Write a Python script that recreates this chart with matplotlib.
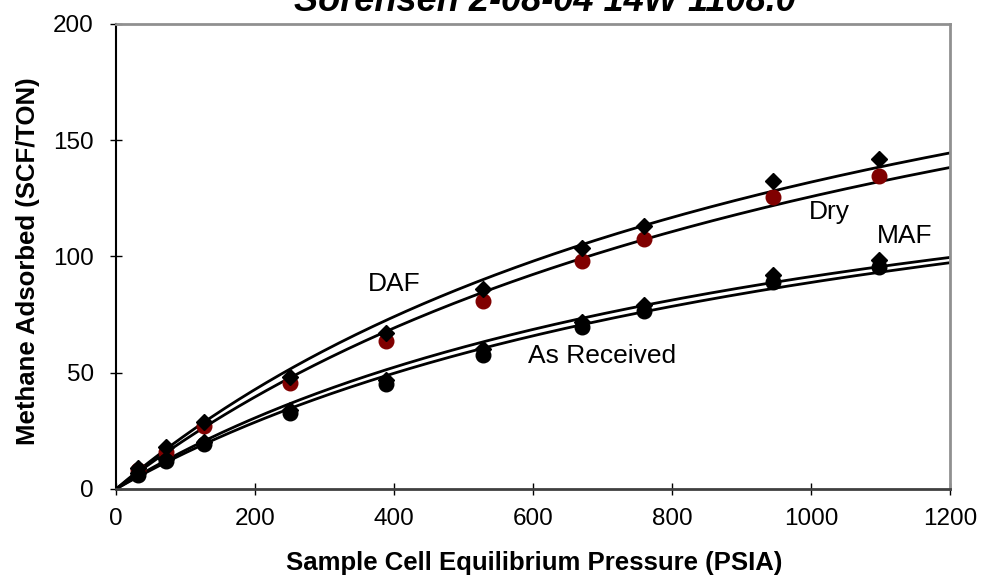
import numpy as np
import matplotlib.pyplot as plt

plt.rcParams['font.family'] = ['Liberation Sans', 'DejaVu Sans']

pressure = [32, 72, 127, 250, 388, 528, 670, 760, 945, 1098]
daf = [9, 18, 29, 48, 67, 86, 103.5, 113, 132.5, 142]
dry = [8, 16, 27, 45.5, 63.5, 81, 98, 107.5, 125.5, 134.5]
maf = [7, 13, 20, 34, 47, 60, 72, 79, 92, 98.5]
as_received = [6, 12, 19.5, 32.5, 45, 57.5, 69.5, 76.5, 89, 95.5]


def langmuir_fit(p, v):
    # linearised Langmuir: P/V = PL/VL + P/VL
    p = np.array(p, float)
    v = np.array(v, float)
    slope, icpt = np.polyfit(p, p / v, 1)
    return 1 / slope, icpt / slope


fig = plt.figure(figsize=(9.83, 5.78), dpi=100)
ax = fig.add_axes([0.118, 0.154, 0.8484, 0.8045])

pp = np.linspace(0, 1200, 300)
for vals in [daf, dry, maf, as_received]:
    vl, pl = langmuir_fit(pressure, vals)
    ax.plot(pp, vl * pp / (pl + pp), color='black', lw=2, zorder=2)

ax.plot(pressure, dry, 'o', color='#800000', ms=10.5, zorder=3)
ax.plot(pressure, daf, 'D', color='black', ms=8, zorder=4)
ax.plot(pressure, as_received, 'o', color='black', ms=10.5, zorder=3)
ax.plot(pressure, maf, 'D', color='black', ms=8, zorder=4)

ax.text(401, 88, 'DAF', fontsize=19, ha='center', va='center')
ax.text(1027, 119, 'Dry', fontsize=19, ha='center', va='center')
ax.text(1135, 109, 'MAF', fontsize=19, ha='center', va='center')
ax.text(699, 57, 'As Received', fontsize=19, ha='center', va='center')

ax.set_xlim(0, 1200)
ax.set_ylim(0, 200)
ax.set_xticks(range(0, 1201, 200))
ax.set_yticks(range(0, 201, 50))
ax.tick_params(direction='inout', length=8, width=1, labelsize=17.5)
ax.tick_params(axis='x', pad=10)
ax.tick_params(axis='y', pad=12)
ax.spines['left'].set_color('black')
ax.spines['bottom'].set_color('#404040')
ax.spines['top'].set_color('#909090')
ax.spines['right'].set_color('#909090')
for s in ax.spines.values():
    s.set_linewidth(2)
ax.spines['left'].set_linewidth(1.5)

ax.set_xlabel('Sample Cell Equilibrium Pressure (PSIA)', fontsize=18.5, fontweight='bold')
ax.set_ylabel('Methane Adsorbed (SCF/TON)', fontsize=18.5, fontweight='bold')
ax.xaxis.set_label_coords(0.501, -0.133)
ax.yaxis.set_label_coords(-0.091, 0.49)
fig.text(0.554, 0.981, 'Sorensen 2-08-04 14W 1108.0', fontsize=26, fontweight='bold',
         style='italic', ha='center', va='baseline')

fig.savefig('out.png', dpi=100)
